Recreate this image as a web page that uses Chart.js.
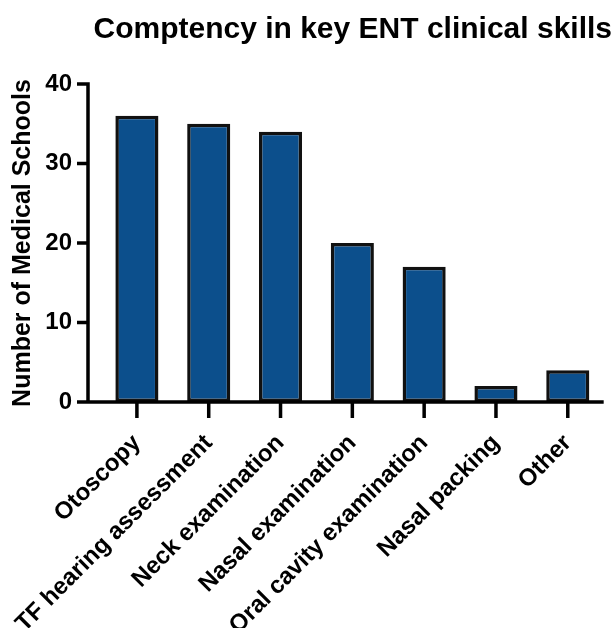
<!DOCTYPE html>
<html>
<head>
<meta charset="utf-8">
<script src="https://cdn.jsdelivr.net/npm/chart.js@4.4.1/dist/chart.umd.min.js"></script>
<style>
  html, body { margin: 0; padding: 0; background: #fff; }
</style>
</head>
<body>
<canvas id="myChart" width="616" height="628"></canvas>
<script>
// chart data
const skills = ['Otoscopy', 'TF hearing assessment', 'Neck examination', 'Nasal examination',
                'Oral cavity examination', 'Nasal packing', 'Other'];
const schoolCounts = [36, 35, 34, 20, 17, 2, 4];
const yTicks = [0, 10, 20, 30, 40];

const FONT = "'Liberation Sans', Arial, Helvetica, sans-serif";

// Prism-style axes: y axis sits a little left of the first category
const prismAxes = {
    id: 'prismAxes',
    afterDatasetsDraw(chart) {
        const { ctx, chartArea, scales: { x, y } } = chart;
        const axisX = chartArea.left - 13;
        const top = y.getPixelForValue(yTicks[yTicks.length - 1]);
        const bottom = y.getPixelForValue(0);
        ctx.save();
        ctx.strokeStyle = '#000';
        ctx.lineWidth = 3.5;
        ctx.beginPath();
        ctx.moveTo(axisX, top - 1.75);
        ctx.lineTo(axisX, bottom);
        ctx.moveTo(axisX - 1.75, bottom);
        ctx.lineTo(chartArea.right, bottom);
        yTicks.forEach(v => {
            const py = y.getPixelForValue(v);
            ctx.moveTo(axisX - 11, py);
            ctx.lineTo(axisX, py);
        });
        skills.forEach((s, i) => {
            const px = x.getPixelForValue(i);
            ctx.moveTo(px, bottom);
            ctx.lineTo(px, bottom + 16);
        });
        ctx.stroke();
        ctx.restore();
    }
};

const ctx = document.getElementById('myChart').getContext('2d');
const myChart = new Chart(ctx, {
    type: 'bar',
    data: {
        labels: skills,
        datasets: [{
            data: schoolCounts,
            backgroundColor: '#0c4f8c',
            borderColor: '#111',
            borderWidth: 3.5,
            borderSkipped: false,
            barPercentage: 0.6,
            categoryPercentage: 1
        }]
    },
    options: {
        responsive: false,
        animation: false,
        layout: { padding: { left: 0, right: 4, top: 0, bottom: 0 } },
        plugins: {
            legend: { display: false },
            tooltip: { enabled: false },
            title: {
                display: true,
                text: 'Comptency in key ENT clinical skills',
                align: 'end',
                color: '#000',
                font: { family: FONT, size: 30, weight: 'bold' },
                padding: { top: 12, bottom: 36 }
            }
        },
        scales: {
            x: {
                grid: { display: false, drawTicks: false },
                border: { display: false },
                ticks: {
                    color: '#000',
                    font: { family: FONT, size: 24, weight: 'bold' },
                    minRotation: 45,
                    maxRotation: 45,
                    autoSkip: false,
                    padding: 27
                },
                afterFit(scale) { scale.height = 226; }
            },
            y: {
                min: 0,
                max: 40,
                grid: { display: false, drawTicks: false },
                border: { display: false },
                ticks: {
                    stepSize: 10,
                    color: '#000',
                    font: { family: FONT, size: 24, weight: 'bold' },
                    padding: 29
                },
                title: {
                    display: true,
                    text: 'Number of Medical Schools',
                    color: '#000',
                    font: { family: FONT, size: 25, weight: 'bold' },
                    padding: { top: 8, bottom: 0 }
                },
                afterFit(scale) { scale.width = 101; }
            },
            // empty right gutter so the plot ends before the title does
            gutter: {
                type: 'linear',
                position: 'right',
                display: true,
                grid: { display: false, drawTicks: false },
                border: { display: false },
                ticks: { display: false },
                afterFit(scale) { scale.width = 8; }
            }
        }
    },
    plugins: [prismAxes]
});
</script>
</body>
</html>
